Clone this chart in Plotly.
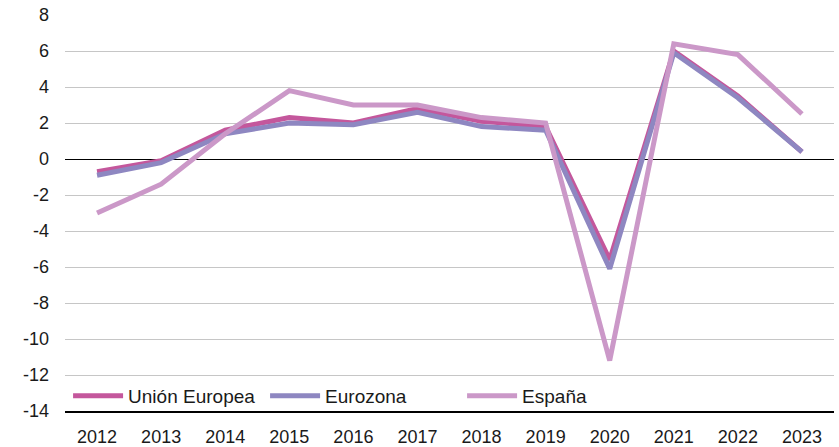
import plotly.graph_objects as go

years = ["2012", "2013", "2014", "2015", "2016", "2017", "2018", "2019", "2020", "2021", "2022", "2023"]
union_europea = [-0.7, -0.1, 1.6, 2.3, 2.0, 2.8, 2.1, 1.8, -5.6, 6.0, 3.5, 0.4]
eurozona = [-0.9, -0.2, 1.4, 2.0, 1.9, 2.6, 1.8, 1.6, -6.1, 5.9, 3.4, 0.4]
espana = [-3.0, -1.4, 1.4, 3.8, 3.0, 3.0, 2.3, 2.0, -11.2, 6.4, 5.8, 2.5]
y_ticks = [8, 6, 4, 2, 0, -2, -4, -6, -8, -10, -12, -14]

series = [
    ("Unión Europea", union_europea, "#c4579c"),
    ("Eurozona", eurozona, "#8e87c1"),
    ("España", espana, "#cb98c8"),
]

FONT = "Liberation Sans, Arial, sans-serif"

fig = go.Figure()
for name, vals, color in series:
    fig.add_trace(go.Scatter(
        x=years, y=vals, name=name, mode="lines",
        line=dict(color=color, width=5),
    ))

fig.update_layout(
    width=839, height=447,
    margin=dict(l=65, r=5, t=15, b=36),
    paper_bgcolor="white", plot_bgcolor="white",
    font=dict(family=FONT, size=18, color="#1a1a1a"),
    showlegend=True,
    legend=dict(
        orientation="h", x=0.004, xanchor="left", y=0.038, yanchor="middle",
        bgcolor="rgba(0,0,0,0)", font=dict(size=19, color="#1a1a1a"),
        itemwidth=50, traceorder="normal",
        entrywidth=132, entrywidthmode="pixels",
    ),
    xaxis=dict(
        type="category", range=[-0.5, 11.5], showgrid=False,
        showline=True, linecolor="black", linewidth=1.5,
        ticks="", ticklabelstandoff=9, zeroline=False, automargin=False,
    ),
    yaxis=dict(
        range=[-14, 8], tickvals=y_ticks, ticktext=[str(v) for v in y_ticks],
        showgrid=True, gridcolor="#c6c6c6", gridwidth=1,
        zeroline=True, zerolinecolor="black", zerolinewidth=1.2,
        showline=False, ticks="", ticklabelstandoff=15, automargin=False,
    ),
)

fig.write_html(
    "out.html",
    config={"displayModeBar": False},
    post_script="document.body.style.margin='0';document.body.style.overflow='hidden';",
)
